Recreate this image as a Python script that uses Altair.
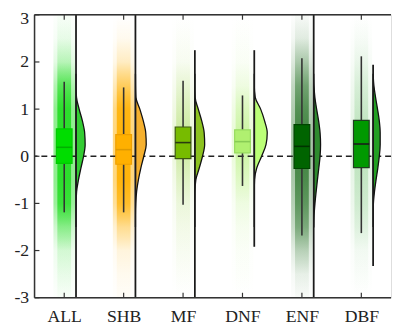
import json
import altair as alt
import pandas as pd

# ---------------- data ----------------
categories = ["ALL", "SHB", "MF", "DNF", "ENF", "DBF"]

whisker_low = [-1.19, -1.19, -1.03, -0.63, -1.68, -1.63]
q1 = [-0.15, -0.17, -0.05, 0.07, -0.26, -0.24]
median = [0.19, 0.14, 0.29, 0.31, 0.21, 0.26]
q3 = [0.58, 0.46, 0.62, 0.56, 0.67, 0.76]
whisker_high = [1.58, 1.46, 1.60, 1.29, 2.08, 2.12]

data_min = [-3.0, -3.0, -3.0, -1.92, -3.0, -2.33]
data_max = [3.0, 3.0, 2.25, 2.25, 3.0, 1.94]

# half-violin profile (width in px) at common levels
violin_levels = [-1.5, -1.25, -1.0, -0.75, -0.5, -0.25, 0.0, 0.25, 0.5, 0.75, 1.0, 1.25, 1.5, 1.75]
violin_width = {
    "ALL": [0, 0, 0.1, 0.6, 2.5, 5.0, 7.7, 9.3, 8.8, 6.5, 3.2, 0.5, 0, 0],
    "SHB": [0, 0, 0.3, 1.2, 3.0, 5.5, 8.5, 11.0, 10.5, 8.0, 4.5, 0.5, 0.1, 0],
    "MF": [0, 0, 0, 0.1, 1.0, 4.5, 7.8, 10.0, 9.5, 7.0, 3.5, 0.3, 0, 0],
    "DNF": [0, 0, 0, 0, 0.3, 2.5, 7.5, 12.0, 13.2, 10.5, 6.5, 1.0, 0, 0],
    "ENF": [0.1, 0.4, 1.3, 2.5, 3.8, 5.2, 6.5, 7.0, 6.5, 5.0, 3.0, 1.2, 0.3, 0],
    "DBF": [0, 0, 0.3, 1.4, 3.0, 4.8, 6.3, 7.2, 7.2, 6.3, 4.5, 2.5, 0.8, 0],
}

# point-cloud density (opacity) from top (3) to bottom (-3)
cloud_levels = [3.0, 2.5, 2.0, 1.5, 1.0, 0.5, 0.0, -0.5, -1.0, -1.5, -2.0, -2.5, -3.0]
cloud_alpha = {
    "ALL": [0.02, 0.08, 0.25, 0.7, 1.0, 1.0, 1.0, 1.0, 0.9, 0.45, 0.15, 0.08, 0.02],
    "SHB": [0.0, 0.05, 0.18, 0.55, 0.95, 1.0, 1.0, 1.0, 0.8, 0.35, 0.1, 0.05, 0.02],
    "MF": [0.0, 0.02, 0.05, 0.15, 0.25, 0.35, 0.3, 0.2, 0.12, 0.08, 0.05, 0.02, 0.0],
    "DNF": [0.0, 0.02, 0.05, 0.15, 0.35, 0.5, 0.45, 0.3, 0.15, 0.08, 0.04, 0.02, 0.0],
    "ENF": [0.02, 0.1, 0.3, 0.55, 0.7, 0.8, 0.8, 0.75, 0.65, 0.5, 0.25, 0.08, 0.02],
    "DBF": [0.0, 0.03, 0.08, 0.15, 0.2, 0.25, 0.25, 0.22, 0.18, 0.12, 0.05, 0.02, 0.0],
}

cloud_color = ["#22dd22", "#ffb000", "#88cc22", "#aaee66", "#1f6e1f", "#33aa33"]
box_fill = ["#00dd00", "#ffb000", "#77bb00", "#b0f070", "#006400", "#009900"]
box_stroke = ["#00cc00", "#f0a000", "#3d5a10", "#98dc60", "#004400", "#1f3f1f"]
median_color = ["#00b000", "#e09a00", "#2a3a10", "#88cc55", "#003300", "#1a1a1a"]
violin_fill = ["#33cc33", "#f5b02e", "#8cc21f", "#bbff77", "#2e8b2e", "#22a022"]

y_ticks = [-3, -2, -1, 0, 1, 2, 3]

# ---------------- geometry ----------------
W, H = 363, 288
PX = W / 6.0
BOX_HALF = 8 / PX
VIOLIN_OFFSET = 12 / PX
CLOUD_OUTER = 11 / PX
CLOUD_INNER = 7 / PX
TICK = 5

xs = alt.Scale(domain=[-0.5, 5.5], nice=False, zero=False)
ys = alt.Scale(domain=[-3, 3], nice=False, zero=False)

FONT = "Liberation Serif"


def rgba(hexc, a):
    h = hexc.lstrip("#")
    r, g, b = int(h[0:2], 16), int(h[2:4], 16), int(h[4:6], 16)
    return f"rgba({r},{g},{b},{a:.3f})"


layers = []

# axis-carrying layer (invisible points)
label_expr = json.dumps(categories) + "[datum.value]"
axis_df = pd.DataFrame({"pos": list(range(len(categories))), "y": [0.0] * len(categories)})
bottom_axis = alt.Axis(
    values=list(range(len(categories))), labelExpr=label_expr, orient="bottom",
    ticks=False, domain=False, grid=False,
    labelFont=FONT, labelFontSize=18, labelColor="#222222", labelPadding=10,
    labelAngle=0, labelOverlap=False, labelFlush=False, title=None,
)
left_axis = alt.Axis(
    values=y_ticks, labelExpr="'' + datum.value", orient="left",
    ticks=False, domain=False, grid=False,
    labelFont=FONT, labelFontSize=18, labelColor="#222222", labelPadding=6,
    labelOffset={"condition": {"test": "datum.value == 3", "value": 4}, "value": 0},
    labelOverlap=False, labelFlush=False, title=None,
)
layers.append(
    alt.Chart(axis_df).mark_point(opacity=0).encode(
        x=alt.X("pos:Q", scale=xs, axis=bottom_axis),
        y=alt.Y("y:Q", scale=ys, axis=left_axis),
    )
)

# point clouds (as vertical density gradients)
for i, c in enumerate(categories):
    for half, scale_a in [(CLOUD_OUTER, 0.5), (CLOUD_INNER, 0.9)]:
        stops = [
            alt.GradientStop(offset=(3.0 - lv) / 6.0, color=rgba(cloud_color[i], min(1.0, a * scale_a)))
            for lv, a in zip(cloud_levels, cloud_alpha[c])
        ]
        grad = alt.LinearGradient(gradient="linear", stops=stops, x1=0, x2=0, y1=0, y2=1)
        df = pd.DataFrame({"x": [i - half], "x2": [i + half], "y": [-3.0], "y2": [3.0]})
        layers.append(
            alt.Chart(df).mark_rect(fill=grad, strokeWidth=0).encode(
                x=alt.X("x:Q", scale=xs, axis=None),
                x2="x2:Q",
                y=alt.Y("y:Q", scale=ys, axis=None),
                y2="y2:Q",
            )
        )

# dashed zero line
zero_df = pd.DataFrame({"y": [0.0]})
layers.append(
    alt.Chart(zero_df).mark_rule(color="#222222", strokeWidth=1.5, strokeDash=[6, 4]).encode(
        y=alt.Y("y:Q", scale=ys, axis=None)
    )
)

stats = pd.DataFrame({
    "cat": categories,
    "pos": list(range(len(categories))),
    "lo": whisker_low, "q1": q1, "med": median, "q3": q3, "hi": whisker_high,
    "dmin": data_min, "dmax": data_max,
    "bfill": box_fill, "bstroke": box_stroke, "mcol": median_color,
})
stats["bx1"] = stats["pos"] - BOX_HALF
stats["bx2"] = stats["pos"] + BOX_HALF
stats["vbase"] = stats["pos"] + VIOLIN_OFFSET

# whiskers
layers.append(
    alt.Chart(stats).mark_rule(color="#333333", strokeWidth=1.6).encode(
        x=alt.X("pos:Q", scale=xs, axis=None),
        y=alt.Y("lo:Q", scale=ys, axis=None),
        y2="hi:Q",
    )
)
# boxes
layers.append(
    alt.Chart(stats).mark_rect(strokeWidth=1.2).encode(
        x=alt.X("bx1:Q", scale=xs, axis=None),
        x2="bx2:Q",
        y=alt.Y("q1:Q", scale=ys, axis=None),
        y2="q3:Q",
        fill=alt.Fill("bfill:N", scale=None),
        stroke=alt.Stroke("bstroke:N", scale=None),
    )
)
# medians
layers.append(
    alt.Chart(stats).mark_rule(strokeWidth=1.6).encode(
        x=alt.X("bx1:Q", scale=xs, axis=None),
        x2="bx2:Q",
        y=alt.Y("med:Q", scale=ys, axis=None),
        color=alt.Color("mcol:N", scale=None),
    )
)

# half violins (one area layer per category)
for i, c in enumerate(categories):
    base = i + VIOLIN_OFFSET
    vdf = pd.DataFrame({
        "level": violin_levels,
        "base": [base] * len(violin_levels),
        "edge": [base + w / PX for w in violin_width[c]],
    })
    layers.append(
        alt.Chart(vdf).mark_area(orient="horizontal", interpolate="monotone", color=violin_fill[i],
                                 fill=violin_fill[i], fillOpacity=1, stroke="#111111",
                                 strokeWidth=1.3).encode(
            y=alt.Y("level:Q", scale=ys, axis=None),
            x=alt.X("edge:Q", scale=xs, axis=None),
            x2="base:Q",
        )
    )

# violin baselines
layers.append(
    alt.Chart(stats).mark_rule(color="#1a1a1a", strokeWidth=1.8).encode(
        x=alt.X("vbase:Q", scale=xs, axis=None),
        y=alt.Y("dmin:Q", scale=ys, axis=None),
        y2="dmax:Q",
    )
)

# frame (left, top, bottom)
frame_x = pd.DataFrame({"x": [-0.5]})
frame_y = pd.DataFrame({"y": [-3.0, 3.0]})
layers.append(
    alt.Chart(frame_x).mark_rule(color="#333333", strokeWidth=1.5).encode(
        x=alt.X("x:Q", scale=xs, axis=None)
    )
)
layers.append(
    alt.Chart(frame_y).mark_rule(color="#333333", strokeWidth=1.5).encode(
        y=alt.Y("y:Q", scale=ys, axis=None)
    )
)

# inward tick marks
ytick_df = pd.DataFrame({"y": y_ticks})
xtick_df = pd.DataFrame({"pos": list(range(len(categories)))})
layers.append(
    alt.Chart(ytick_df).mark_rule(color="#333333", strokeWidth=1.2).encode(
        y=alt.Y("y:Q", scale=ys, axis=None),
        x=alt.value(0), x2=alt.value(TICK),
    )
)
layers.append(
    alt.Chart(xtick_df).mark_rule(color="#333333", strokeWidth=1.2).encode(
        x=alt.X("pos:Q", scale=xs, axis=None),
        y=alt.value(H), y2=alt.value(H - TICK),
    )
)
layers.append(
    alt.Chart(xtick_df).mark_rule(color="#333333", strokeWidth=1.2).encode(
        x=alt.X("pos:Q", scale=xs, axis=None),
        y=alt.value(0), y2=alt.value(TICK),
    )
)

chart = (
    alt.layer(*layers)
    .resolve_axis(x="independent", y="independent")
    .properties(
        width=W, height=H,
        autosize=alt.AutoSizeParams(type="none"),
        padding={"left": 27, "top": 4, "right": 2, "bottom": 33},
    )
    .configure_view(stroke=None)
    .configure(background="white")
)

chart.save("out.html", embed_options={"renderer": "svg", "actions": False})
